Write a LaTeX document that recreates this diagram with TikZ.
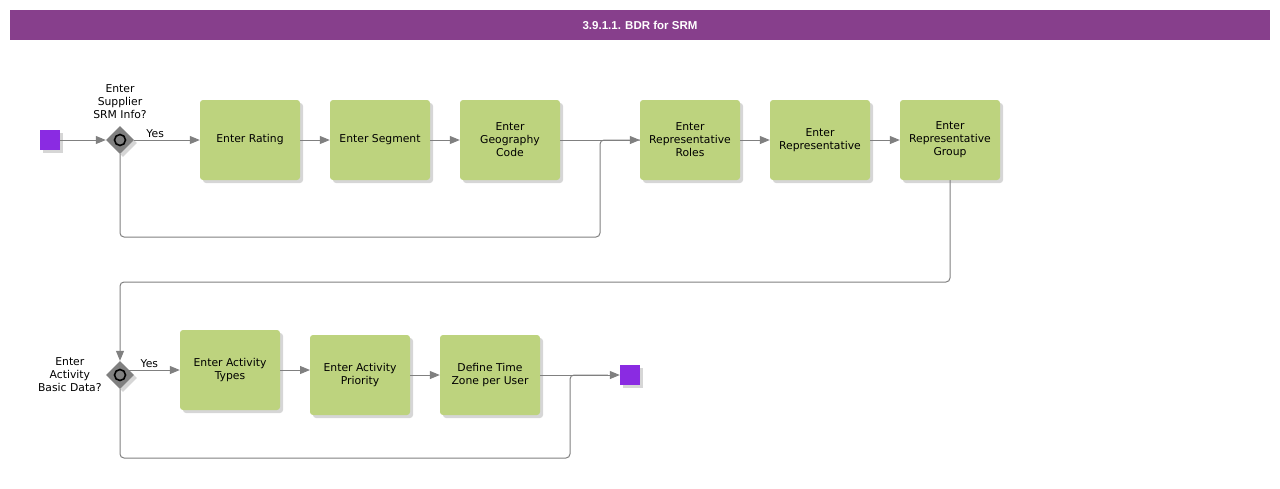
\documentclass[tikz,border=0pt]{standalone}
\usepackage{fontspec}
\setmainfont{DejaVu Sans}
\newfontfamily\titlefont{Liberation Sans}
\usetikzlibrary{arrows.meta,positioning,shapes.geometric,shadows}
\definecolor{barpurple}{RGB}{135,63,140}
\definecolor{taskgreen}{RGB}{189,211,126}
\definecolor{eventviolet}{RGB}{138,43,226}
\definecolor{flowgray}{RGB}{128,128,128}

\begin{document}
\begin{tikzpicture}[x=1pt,y=-1pt,node distance=130pt,font=\fontsize{10.8}{13}\selectfont,
	flow/.style={draw=flowgray,line width=1pt,-{Triangle[length=10pt,width=8pt]}},
	link/.style={draw=flowgray,line width=1pt,rounded corners=4pt},
	softshadow/.style={drop shadow={shadow xshift=3pt,shadow yshift=-3pt,fill=black,opacity=0.16}},
	task/.style={rectangle,rounded corners=3pt,fill=taskgreen,minimum width=100pt,minimum height=80pt,align=center,inner sep=0pt,softshadow},
	gate/.style={diamond,fill=flowgray,minimum size=28pt,inner sep=0pt,softshadow},
	event/.style={rectangle,fill=eventviolet,minimum size=20pt,inner sep=0pt,softshadow},
	gatelabel/.style={align=center,inner sep=0pt},
	titlebar/.style={rectangle,fill=barpurple,minimum width=1260pt,minimum height=30pt,text=white,font=\titlefont\bfseries\fontsize{11.5}{13}\selectfont}]
	\useasboundingbox (0,0) rectangle (1280,488);
	\node[titlebar] (t) at (640,25) {3.9.1.1. BDR for SRM};

	\node[event] (s) at (50,140) {};
	\node[gate] (g1) at (120,140) {};
	\node[gatelabel,above=7pt of g1] (q1) {Enter\\Supplier\\SRM Info?};
	\node[task] (1) at (250,140) {Enter Rating};
	\node[task] (2) [right of=1] {Enter Segment};
	\node[task] (3) [right of=2] {Enter\\Geography\\Code};
	\node[task] (4) at (690,140) {Enter\\Representative\\Roles};
	\node[task] (5) [right of=4] {Enter\\Representative};
	\node[task] (6) [right of=5] {Enter\\Representative\\Group};

	\node[gate] (g2) at (120,375) {};
	\node[gatelabel,left=4pt of g2] (q2) {Enter\\Activity\\Basic Data?};
	\node[task] (7) at (230,370) {Enter Activity\\Types};
	\node[task] (8) at (360,375) {Enter Activity\\Priority};
	\node[task] (9) [right of=8] {Define Time\\Zone per User};
	\node[event] (e) at (630,375) {};

	\foreach \g in {g1,g2}
		\draw[black,line width=1.6pt] (\g) circle (5.5pt);

	\coordinate (b1) at (600,237);
	\coordinate (b2) at (950,282);
	\coordinate (b3) at (570,458);
	\coordinate (a7) at (129,370);
	\coordinate (a8) at (310,370);
	\coordinate (d2) at (120,351);

	\path[every edge/.style={flow}]
		(s) edge (g1)
		(g1) edge node[above,pos=0.32,inner sep=2pt] (y1) {Yes} (1)
		(1) edge (2)
		(2) edge (3)
		(3) edge (4)
		(4) edge (5)
		(5) edge (6)
		(a7) edge node[above,pos=0.4,inner sep=2pt] (y2) {Yes} (7.west)
		(7.east) edge (a8)
		(8) edge (9)
		(9) edge (e)
		(d2) edge (g2.north);
	\draw[link] (g1.south) |- (b1) |- (4.west);
	\draw[link] (6.south) -- (b2) -| (d2);
	\draw[link] (g2.south) |- (b3) |- ([xshift=-12pt]e.west);
\end{tikzpicture}
\end{document}
